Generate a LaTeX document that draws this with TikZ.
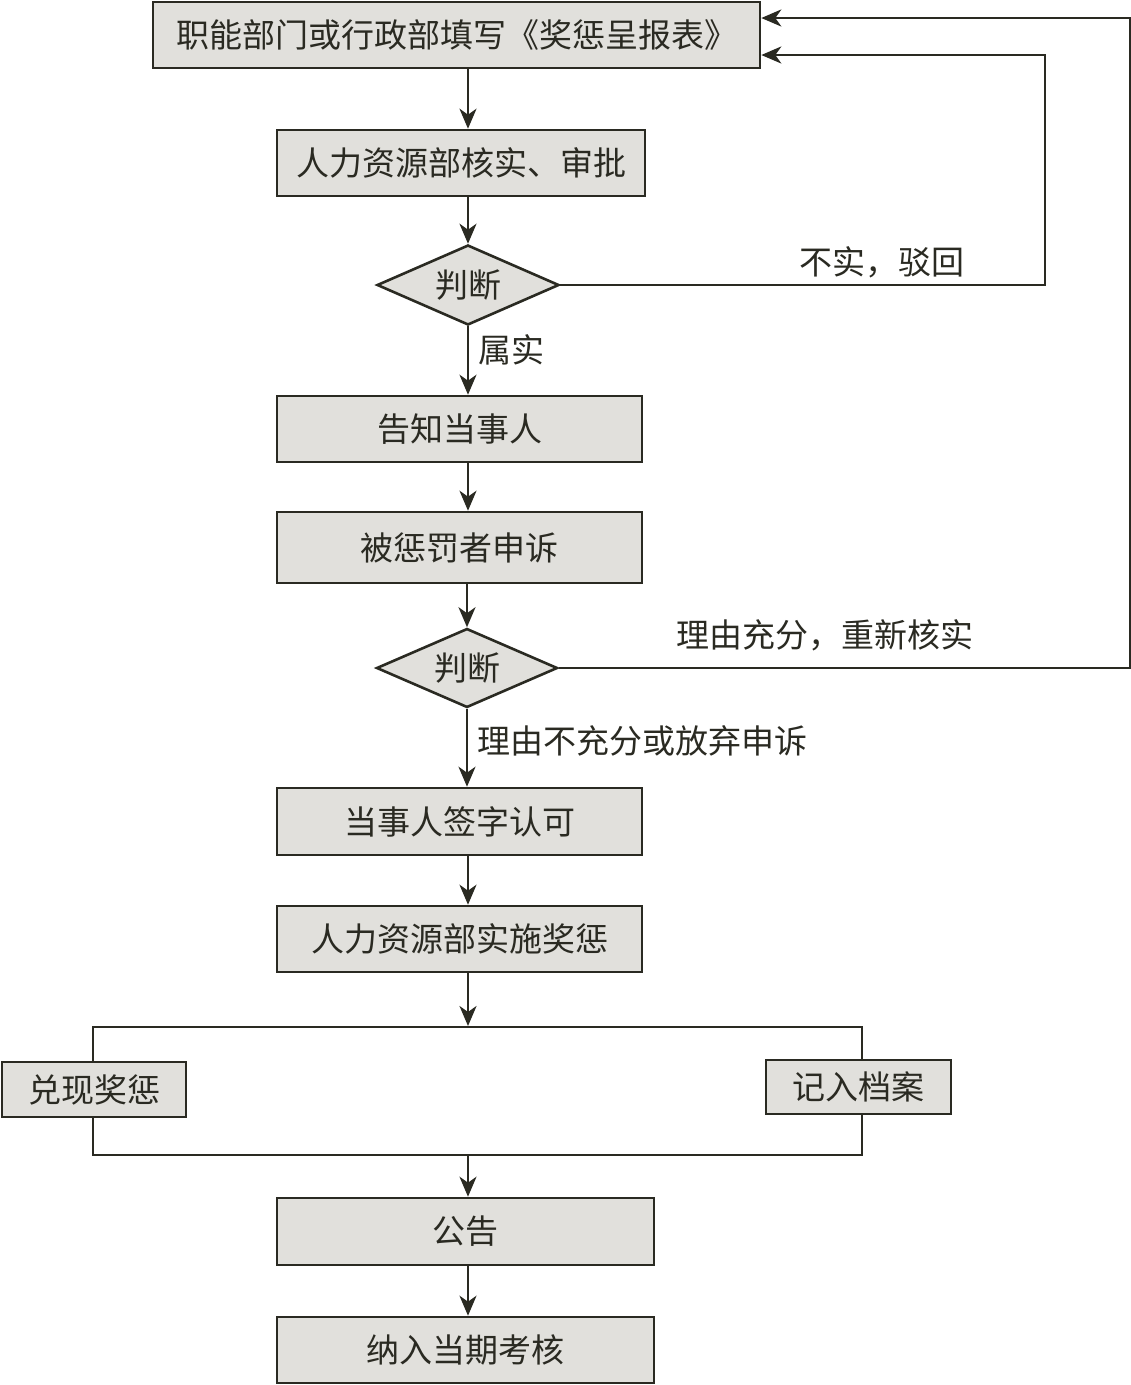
\documentclass[tikz,border=0pt]{standalone}
\usepackage{fontspec}
\setmainfont{Noto Sans CJK SC}
\usetikzlibrary{shapes.geometric,arrows.meta,calc}
\definecolor{boxfill}{HTML}{E1E0DC}
\definecolor{linec}{HTML}{2A2A22}
\begin{document}
\begin{tikzpicture}[x=1pt,y=-1pt,
  every node/.style={font=\fontsize{33}{38}\selectfont, text=linec},
  box/.style={draw=linec, line width=2.6pt, fill=boxfill, inner sep=0pt},
  dia/.style={draw=linec, line width=2.6pt, fill=boxfill, shape=diamond, inner sep=0pt, shape aspect=2.275},
  lbl/.style={inner sep=0pt},
  conn/.style={draw=linec, line width=2.6pt},
  arr/.style={conn, -{Stealth[length=20pt,width=17pt,inset=6pt]}}]
\useasboundingbox (0,0) rectangle (1131,1385);
\node[box, minimum width=607pt, minimum height=66pt] (b1) at (456.5,35) {职能部门或行政部填写《奖惩呈报表》};
\node[box, minimum width=368pt, minimum height=66pt] (b2) at (461,163) {人力资源部核实、审批};
\node[dia, minimum width=182pt, minimum height=80pt] (d1) at (468,285) {判断};
\node[box, minimum width=365pt, minimum height=66pt] (b4) at (459.5,429) {告知当事人};
\node[box, minimum width=365pt, minimum height=71pt] (b5) at (459.5,547.5) {被惩罚者申诉};
\node[dia, minimum width=181pt, minimum height=79pt] (d2) at (467,668) {判断};
\node[box, minimum width=365pt, minimum height=67pt] (b7) at (459.5,821.5) {当事人签字认可};
\node[box, minimum width=365pt, minimum height=66pt] (b8) at (459.5,939) {人力资源部实施奖惩};
\node[box, minimum width=184pt, minimum height=55pt] (b10) at (94,1089.5) {兑现奖惩};
\node[box, minimum width=185pt, minimum height=54pt] (b11) at (858.5,1087) {记入档案};
\node[box, minimum width=377pt, minimum height=67pt] (b13) at (465.5,1231.5) {公告};
\node[box, minimum width=377pt, minimum height=66pt] (b14) at (465.5,1350) {纳入当期考核};
\coordinate (split) at (468,1027);
\coordinate (join) at (468,1155);
\coordinate (fb1) at (1045,285);
\coordinate (fb2) at (1130,668);
% main flow
\draw[arr] (b1.south -| split) -- (b2.north -| split);
\draw[arr] (b2.south -| d1.north) -- (d1.north);
\draw[arr] (d1.south) -- (b4.north -| d1.south);
\draw[arr] (b4.south -| split) -- (b5.north -| split);
\draw[arr] (b5.south -| d2.north) -- (d2.north);
\draw[arr] (d2.south) -- (b7.north -| d2.south);
\draw[arr] (b7.south -| split) -- (b8.north -| split);
\draw[arr] (b8.south -| split) -- ($(split)+(0,-1)$);
\draw[conn] (b10.north -| 93,0) |- (split) -| (b11.north -| 862,0);
\draw[conn] (b10.south -| 93,0) |- (join) -| (b11.south -| 862,0);
\draw[arr] (join) -- (b13.north -| join);
\draw[arr] (b13.south -| join) -- (b14.north -| join);
% feedback
\draw[arr] (d1.east) -- (fb1) |- ($(b1.east)+(0,20)$);
\draw[arr] (d2.east) -- (fb2) |- ($(b1.east)+(0,-17)$);
% labels
\node[lbl] (l1) at (882,262) {不实，驳回};
\node[lbl] (l2) at (511,350) {属实};
\node[lbl] (l3) at (825,635) {理由充分，重新核实};
\node[lbl] (l4) at (642,741) {理由不充分或放弃申诉};
\end{tikzpicture}
\end{document}
